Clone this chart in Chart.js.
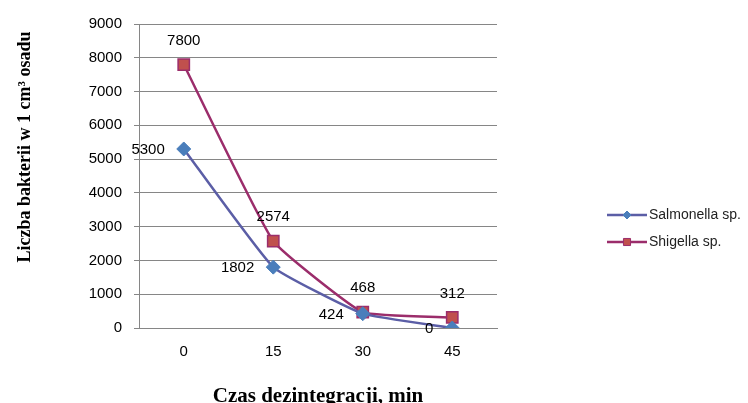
<!DOCTYPE html>
<html>
<head>
<meta charset="utf-8">
<script src="https://cdn.jsdelivr.net/npm/chart.js@4"></script>
<style>
  html, body { margin: 0; padding: 0; background: #fff; }
  canvas { display: block; }
</style>
</head>
<body>
<canvas id="chart" width="748" height="403"></canvas>
<script>
// dane
const czas = ['0', '15', '30', '45'];
const salmonella = [5300, 1802, 424, 0];
const shigella = [7800, 2574, 468, 312];
const yTicks = [0, 1000, 2000, 3000, 4000, 5000, 6000, 7000, 8000, 9000];

const tickFont = { family: 'Liberation Sans', size: 15 };
const gridColor = '#868686';

// etykiety wartości przy punktach
const dataLabels = {
    id: 'dataLabels',
    afterDatasetsDraw(chart) {
        const ctx = chart.ctx;
        ctx.save();
        ctx.font = '15px "Liberation Sans"';
        ctx.fillStyle = '#000';
        chart.data.datasets.forEach((ds, i) => {
            const meta = chart.getDatasetMeta(i);
            meta.data.forEach((pt, j) => {
                const txt = String(ds.data[j]);
                ctx.textBaseline = 'middle';
                if (ds.labelPos === 'left') {
                    ctx.textAlign = 'right';
                    ctx.fillText(txt, pt.x - 19, pt.y + 1);
                } else {
                    ctx.textAlign = 'center';
                    ctx.fillText(txt, pt.x, pt.y - 24);
                }
            });
        });
        ctx.restore();
    }
};

// tytuły osi
const axisTitles = {
    id: 'axisTitles',
    afterDraw(chart) {
        const ctx = chart.ctx;
        const area = chart.chartArea;
        ctx.save();
        ctx.fillStyle = '#000';
        ctx.textAlign = 'center';
        ctx.textBaseline = 'alphabetic';
        ctx.font = 'bold 21px "Liberation Serif"';
        ctx.fillText('Czas dezintegracji, min', (area.left + area.right) / 2, 402);
        ctx.font = 'bold 18px "Liberation Serif"';
        ctx.translate(30, 147);
        ctx.rotate(-Math.PI / 2);
        ctx.fillText('Liczba bakterii w 1 cm³ osadu', 0, 0);
        ctx.restore();
    }
};

// legenda jak w Excelu: linia z markerem
const lineLegend = {
    id: 'lineLegend',
    afterDraw(chart) {
        const ctx = chart.ctx;
        const x0 = chart.chartArea.right + 110;
        ctx.save();
        ctx.font = '14px "Liberation Sans"';
        ctx.textAlign = 'left';
        ctx.textBaseline = 'middle';
        chart.data.datasets.forEach((ds, i) => {
            const y = 215 + i * 27;
            ctx.strokeStyle = ds.borderColor;
            ctx.lineWidth = 2.5;
            ctx.beginPath();
            ctx.moveTo(x0, y);
            ctx.lineTo(x0 + 40, y);
            ctx.stroke();
            ctx.fillStyle = ds.pointBackgroundColor;
            ctx.strokeStyle = ds.pointBorderColor;
            ctx.lineWidth = 1;
            Chart.helpers.drawPoint(ctx, {
                pointStyle: ds.pointStyle,
                radius: ds.pointStyle === 'rect' ? 5 : 4,
                borderWidth: 1
            }, x0 + 20, y);
            ctx.fillStyle = '#222';
            ctx.fillText(ds.label, x0 + 42, y);
        });
        ctx.restore();
    }
};

const chart = new Chart(document.getElementById('chart'), {
    type: 'line',
    data: {
        labels: czas,
        datasets: [
            {
                label: 'Salmonella sp.',
                data: salmonella,
                borderColor: '#5B5EA6',
                borderWidth: 2.5,
                pointStyle: 'rectRot',
                pointRadius: 7,
                pointBackgroundColor: '#4A7EBB',
                pointBorderColor: '#4A7EBB',
                pointBorderWidth: 1,
                tension: 0.12,
                labelPos: 'left'
            },
            {
                label: 'Shigella sp.',
                data: shigella,
                borderColor: '#9B2D6B',
                borderWidth: 2.5,
                pointStyle: 'rect',
                pointRadius: 8,
                pointBackgroundColor: '#C0504D',
                pointBorderColor: '#9B2D6B',
                pointBorderWidth: 1.5,
                tension: 0.12,
                labelPos: 'top'
            }
        ]
    },
    options: {
        responsive: false,
        animation: false,
        layout: { padding: { top: 24, right: 251, left: 0, bottom: 0 } },
        plugins: {
            legend: { display: false },
            tooltip: { enabled: false }
        },
        scales: {
            x: {
                offset: true,
                grid: { display: false, drawTicks: false },
                border: { display: true, color: gridColor, width: 1 },
                ticks: { font: tickFont, color: '#000', padding: 15 },
                afterFit(scale) { scale.height = 75; }
            },
            y: {
                min: 0,
                max: 9000,
                afterBuildTicks(scale) { scale.ticks = yTicks.map(v => ({ value: v })); },
                grid: { color: gridColor, lineWidth: 1, tickLength: 5 },
                border: { display: true, color: gridColor, width: 1 },
                ticks: {
                    font: tickFont,
                    color: '#000',
                    padding: 12,
                    callback: (v) => String(v)
                },
                afterFit(scale) { scale.width = 139; }
            }
        }
    },
    plugins: [dataLabels, axisTitles, lineLegend]
});
</script>
</body>
</html>
